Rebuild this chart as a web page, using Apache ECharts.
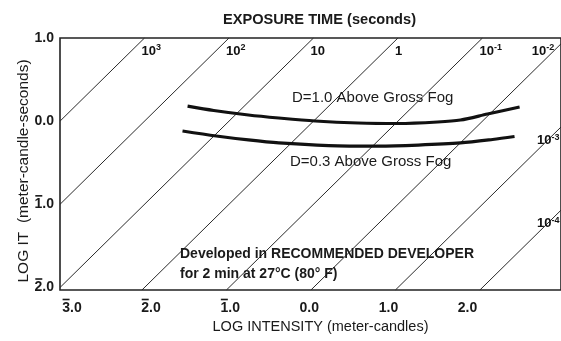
<!DOCTYPE html>
<html><head><meta charset="utf-8">
<script src="https://cdn.jsdelivr.net/npm/echarts@6/dist/echarts.min.js"></script>
<style>html,body{margin:0;padding:0;background:#fff}#c{width:561px;height:341px}</style>
</head><body><div id="c"></div>
<script>
// exposure-time lines: log T exponents and their labels
const exposureExponents = [3, 2, 1, 0, -1, -2, -3, -4];
const exposureBase = ['10', '10', '10', '1', '10', '10', '10', '10'];
const exposureSup = ['3', '2', '', '', '-1', '-2', '-3', '-4'];
// tick labels (bar = negative characteristic, written with an overbar)
const xTickValues = [-3, -2, -1, 0, 1, 2];
const xTickLabels = ['3.0', '2.0', '1.0', '0.0', '1.0', '2.0'];
const xTickBar = [true, true, true, false, false, false];
const yTickValues = [1, 0, -1, -2];
const yTickLabels = ['1.0', '0.0', '1.0', '2.0'];
const yTickBar = [false, false, true, true];
// characteristic curves (log I, log IT)
const d10LogI = [-1.49, -1.18, -0.77, -0.41, 0.02, 0.53, 1.0, 1.47, 1.74, 2.06, 2.44];
const d10LogIT = [0.18, 0.128, 0.074, 0.038, 0.002, -0.022, -0.028, -0.010, 0.014, 0.086, 0.17];
const d03LogI = [-1.55, -1.15, -0.77, -0.41, 0.18, 0.77, 1.24, 1.74, 2.12, 2.38];
const d03LogIT = [-0.118, -0.178, -0.226, -0.262, -0.293, -0.299, -0.287, -0.262, -0.220, -0.184];

const XMIN = -3, XMAX = 2.93, YMIN = -2.03, YMAX = 1;
const FONT = 'Liberation Sans, Arial, sans-serif';
const ink = '#1a1a1a';

const series = [];
exposureExponents.forEach(function (k) {
  const x0 = Math.max(XMIN, YMIN - k), x1 = Math.min(XMAX, YMAX - k);
  if (x0 < x1) {
    series.push({
      type: 'line', xAxisIndex: 0, yAxisIndex: 0, silent: true, symbol: 'none',
      data: [[x0, x0 + k], [x1, x1 + k]],
      lineStyle: { color: '#2a2a2a', width: 1 }, z: 2
    });
  }
});

// exposure labels
const labelData = exposureExponents.map(function (k, i) {
  const txt = '{n|' + exposureBase[i] + '}' + (exposureSup[i] ? '{s|' + exposureSup[i] + '}' : '');
  let pt, off;
  if (YMAX - k <= 3) {
    pt = [Math.min(YMAX - k, 2.62), YMAX]; off = [-3, 13];
  } else {
    pt = [2.647, 2.647 + k]; off = [0, -10];
  }
  return { value: pt, label: { show: true, formatter: txt, position: 'inside', align: 'left', verticalAlign: 'middle', offset: off } };
});
series.push({
  type: 'scatter', xAxisIndex: 0, yAxisIndex: 0, symbolSize: 0, silent: true, z: 5,
  itemStyle: { opacity: 1 },
  data: labelData,
  label: {
    opacity: 1,
    rich: {
      n: { fontFamily: FONT, fontWeight: 'bold', fontSize: 13, color: '#111', lineHeight: 15 },
      s: { fontFamily: FONT, fontWeight: 'bold', fontSize: 9, color: '#111', verticalAlign: 'top', lineHeight: 15, padding: [0, 0, 6, 0] }
    }
  }
});

function curve(xs, ys) { return xs.map(function (x, i) { return [x, ys[i]]; }); }
series.push({
  type: 'line', xAxisIndex: 0, yAxisIndex: 0, silent: true, symbol: 'none', smooth: 0.3,
  data: curve(d10LogI, d10LogIT), lineStyle: { color: '#111', width: 3.2 }, z: 4
});
series.push({
  type: 'line', xAxisIndex: 0, yAxisIndex: 0, silent: true, symbol: 'none', smooth: 0.3,
  data: curve(d03LogI, d03LogIT), lineStyle: { color: '#111', width: 3.2 }, z: 4
});

function barLabel(values, labels, bars) {
  return function (v) {
    const i = values.indexOf(Math.round(v));
    if (i < 0) return '';
    return (bars[i] ? '{bar| }' : '{nobar| }') + '{sp| }\n{t|' + labels[i] + '}';
  };
}
const tickRich = {
  bar: { width: 7, height: 1.6, lineHeight: 3, backgroundColor: ink, fontSize: 1 },
  nobar: { width: 7, height: 1.6, lineHeight: 3, fontSize: 1 },
  sp: { width: 11.7, height: 1.6, lineHeight: 3, fontSize: 1 },
  t: { fontFamily: FONT, fontWeight: 'bold', fontSize: 14, color: ink, lineHeight: 14 }
};

const chart = echarts.init(document.getElementById('c'), null, { renderer: 'canvas' });
chart.setOption({
  animation: false,
  backgroundColor: '#fff',
  title: {
    text: 'EXPOSURE TIME (seconds)', left: 218, top: 7,
    textStyle: { fontFamily: FONT, fontWeight: 'bold', fontSize: 14.6, color: ink }
  },
  grid: { show: true, left: 60, top: 38, right: -3, bottom: 51, borderColor: '#222', borderWidth: 1.6, backgroundColor: 'transparent' },
  xAxis: [
    { type: 'value', min: XMIN, max: XMAX, axisLine: { show: false }, axisTick: { show: false }, axisLabel: { show: false }, splitLine: { show: false } },
    {
      type: 'value', min: -3.151, max: 3.181, position: 'bottom',
      axisLine: { show: false }, axisTick: { show: false }, splitLine: { show: false },
      axisLabel: {
        customValues: xTickValues, margin: 8,
        formatter: barLabel(xTickValues, xTickLabels, xTickBar),
        rich: tickRich
      },
      name: 'LOG INTENSITY (meter-candles)', nameLocation: 'middle', nameGap: 29,
      nameTextStyle: { fontFamily: FONT, fontSize: 14.5, color: ink, padding: [0, 0, 0, 20] }
    }
  ],
  yAxis: {
    type: 'value', min: YMIN, max: YMAX,
    axisLine: { show: false }, axisTick: { show: false }, splitLine: { show: false },
    axisLabel: {
      customValues: yTickValues, margin: 6, padding: [0, 0, 3, 0],
      formatter: barLabel(yTickValues, yTickLabels, yTickBar),
      rich: tickRich
    },
    name: 'LOG IT  (meter-candle-seconds)', nameLocation: 'middle', nameGap: 28, nameMoveOverlap: false,
    nameTextStyle: { fontFamily: FONT, fontSize: 15.5, color: ink, padding: [0, 14, 0, 0] }
  },
  graphic: [
    { type: 'text', x: 292, y: 98, z: 3, style: { text: 'D=1.0 Above Gross Fog', fontFamily: FONT, fontSize: 15, fill: ink, verticalAlign: 'middle' } },
    { type: 'text', x: 290, y: 162, z: 3, style: { text: 'D=0.3 Above Gross Fog', fontFamily: FONT, fontSize: 15, fill: ink, verticalAlign: 'middle' } },
    { type: 'text', x: 180, y: 254, z: 3, style: { text: 'Developed in RECOMMENDED DEVELOPER', fontFamily: FONT, fontWeight: 'bold', fontSize: 14, fill: ink, verticalAlign: 'middle' } },
    { type: 'text', x: 180, y: 274, z: 3, style: { text: 'for 2 min at 27°C (80° F)', fontFamily: FONT, fontWeight: 'bold', fontSize: 14, fill: ink, verticalAlign: 'middle' } }
  ],
  series: series
});
</script></body></html>
